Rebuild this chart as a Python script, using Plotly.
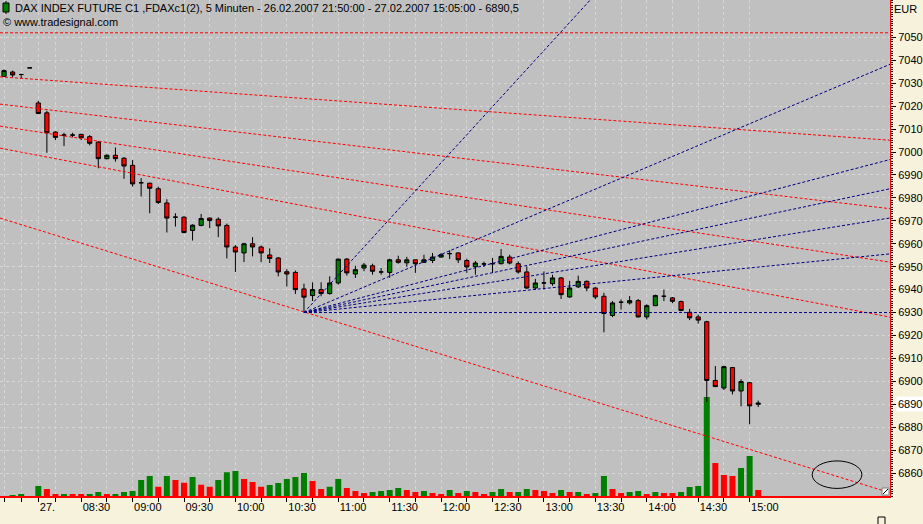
import plotly.graph_objects as go

# ---------------- data ----------------
# bar index: 0 = first 5-minute bar of 27.02.2007, negative = evening bars of 26.02.2007
BAR_IDX = list(range(-4, 85))

OPEN = [7033.0, 7034.9, 7033.8, 7036.7,
        7021.4, 7017.1, 7008.7, 7007.4, 7007.4, 7007.7, 7006.7, 7004.3, 6997.1, 6998.6,
        6997.3, 6994.2, 6986.6, 6986.4, 6984.0, 6977.8, 6971.6, 6971.6, 6965.8, 6968.0,
        6971.2, 6970.7, 6968.0, 6958.6, 6956.0, 6960.0, 6958.6, 6955.1, 6953.8, 6947.8,
        6947.5, 6940.3, 6937.4, 6940.0, 6938.3, 6942.9, 6953.3, 6946.8, 6949.4, 6950.4,
        6947.7, 6947.5, 6953.0, 6951.7, 6953.0, 6951.9, 6952.7, 6954.2, 6955.7, 6956.0,
        6952.7, 6950.0, 6951.2, 6951.3, 6951.3, 6954.2, 6951.3, 6947.7, 6940.7, 6942.9,
        6942.6, 6945.1, 6936.8, 6941.2, 6943.6, 6940.7, 6937.1, 6928.7, 6934.5, 6934.2,
        6935.2, 6928.1, 6933.0, 6937.1, 6936.4, 6934.8, 6930.1, 6928.1, 6926.0, 6900.4,
        6897.1, 6906.0, 6895.8, 6899.4, 6890.0]
HIGH = [7036.0, 7035.5, 7034.2, 7036.7,
        7022.3, 7018.0, 7009.0, 7008.4, 7008.4, 7008.0, 7007.4, 7004.8, 6999.0, 7002.0,
        6997.8, 6996.5, 6988.6, 6986.6, 6984.9, 6979.4, 6973.3, 6972.0, 6968.5, 6973.0,
        6971.5, 6971.5, 6968.8, 6959.4, 6960.4, 6962.9, 6959.2, 6958.0, 6954.2, 6948.9,
        6948.3, 6942.6, 6943.2, 6943.2, 6945.8, 6953.5, 6953.8, 6950.4, 6951.6, 6951.3,
        6949.4, 6953.5, 6954.8, 6954.3, 6953.0, 6955.2, 6956.0, 6956.0, 6957.1, 6956.3,
        6953.5, 6952.5, 6952.2, 6953.8, 6957.7, 6955.2, 6952.3, 6950.1, 6944.7, 6948.0,
        6946.5, 6945.5, 6943.8, 6946.1, 6944.0, 6941.0, 6938.6, 6935.0, 6935.7, 6937.2,
        6935.9, 6933.6, 6937.8, 6940.0, 6936.8, 6935.2, 6931.6, 6929.1, 6926.4, 6906.7,
        6906.8, 6906.2, 6900.9, 6899.6, 6891.6]
LOW = [7033.0, 7032.7, 7032.0, 7036.7,
       7016.5, 6999.7, 7005.2, 7002.6, 7006.4, 7005.2, 7002.9, 6992.9, 6996.8, 6995.8,
       6988.3, 6984.9, 6980.6, 6973.3, 6977.3, 6964.9, 6967.5, 6964.6, 6961.4, 6967.6,
       6966.8, 6962.9, 6953.6, 6947.7, 6952.0, 6954.5, 6952.0, 6951.6, 6945.8, 6941.4,
       6938.1, 6930.1, 6935.0, 6937.1, 6937.8, 6942.2, 6946.1, 6945.1, 6948.0, 6946.5,
       6946.5, 6945.1, 6951.3, 6950.0, 6947.3, 6951.6, 6951.6, 6953.9, 6953.3, 6951.6,
       6947.3, 6946.5, 6949.9, 6947.3, 6951.0, 6951.0, 6947.0, 6940.3, 6940.0, 6940.0,
       6941.7, 6935.9, 6936.5, 6940.7, 6939.3, 6935.9, 6921.4, 6928.0, 6931.3, 6933.5,
       6927.8, 6927.0, 6932.8, 6935.0, 6934.1, 6930.5, 6926.7, 6925.2, 6891.0, 6897.5,
       6896.2, 6894.3, 6889.1, 6881.3, 6888.8]
CLOSE = [7035.5, 7033.6, 7033.8, 7036.7,
         7016.8, 7008.4, 7006.4, 7007.4, 7007.4, 7006.2, 7003.8, 6997.1, 6998.6, 6997.1,
         6993.9, 6986.1, 6986.6, 6984.2, 6978.0, 6971.2, 6971.6, 6964.9, 6968.1, 6971.0,
         6970.1, 6967.8, 6958.6, 6956.4, 6960.0, 6958.6, 6956.0, 6953.6, 6947.7, 6946.8,
         6940.0, 6936.7, 6940.0, 6938.3, 6942.9, 6953.3, 6947.3, 6948.7, 6950.7, 6948.0,
         6947.7, 6953.0, 6951.9, 6953.0, 6951.3, 6953.0, 6954.2, 6955.2, 6955.7, 6953.0,
         6949.9, 6951.6, 6951.2, 6951.3, 6954.5, 6951.6, 6947.7, 6940.7, 6942.9, 6942.9,
         6945.1, 6937.8, 6940.7, 6943.6, 6940.7, 6936.8, 6929.6, 6934.2, 6934.5, 6935.2,
         6928.1, 6933.0, 6937.4, 6937.1, 6934.9, 6930.9, 6927.7, 6926.7, 6900.4, 6897.7,
         6906.4, 6895.8, 6899.9, 6889.3, 6890.5]

VOLUME = [0, 80, 160, 0,
          800, 560, 140, 160, 140, 100, 160, 320, 160, 160,
          320, 400, 1280, 1600, 740, 1600, 1280, 1060, 1520, 900,
          740, 1280, 1900, 2000, 1360, 1120, 740, 880, 1040, 1360,
          1520, 1840, 1200, 560, 740, 1360, 640, 400, 240, 320,
          400, 480, 640, 480, 320, 400, 240, 160, 480, 240,
          400, 320, 160, 320, 560, 320, 320, 560, 480, 400,
          240, 480, 320, 320, 160, 240, 1600, 560, 240, 320,
          400, 160, 320, 240, 240, 320, 720, 800, 7920, 2640,
          1680, 1600, 2240, 3200, 480]
VOL_DIR = ["g", "g", "g", "g",
           "g", "r", "r", "g", "r", "r", "g", "g", "r", "g",
           "g", "g", "g", "g", "r", "g", "r", "r", "g", "r",
           "r", "g", "g", "g", "r", "r", "r", "g", "g", "g",
           "g", "g", "r", "r", "g", "g", "r", "r", "r", "g",
           "g", "g", "g", "r", "r", "g", "r", "r", "g", "r",
           "g", "r", "r", "g", "g", "r", "g", "g", "r", "r",
           "r", "g", "r", "g", "r", "g", "g", "r", "r", "g",
           "g", "r", "g", "r", "r", "g", "g", "g", "g", "r",
           "r", "r", "g", "g", "r"]

# time axis ticks (bar index) and their labels
TICK_IDX = [-4, -2, 0, 2] + list(range(5, 84, 3))
LABEL_IDX = [0, 5, 11, 17, 23, 29, 35, 41, 47, 53, 59, 65, 71, 77, 83]
LABEL_TXT = ["27.", "08:30", "09:00", "09:30", "10:00", "10:30", "11:00", "11:30",
             "12:00", "12:30", "13:00", "13:30", "14:00", "14:30", "15:00"]

PRICE_TICKS = list(range(6860, 7051, 10))
LAST_PRICE = 6890.5

# drawn analysis lines: two points (bar index, price) each
RED_TRENDS = [((-4.47, 7032.8), (99.15, 7005.2)),
              ((-4.47, 7020.9), (99.15, 6975.4)),
              ((-4.47, 7011.3), (99.15, 6952.1)),
              ((-4.47, 7001.7), (99.15, 6928.2)),
              ((-4.47, 6971.2), (99.15, 6851.7))]
RED_LEVEL = 7052.0
FAN_ORIGIN = (31, 6930.0)
FAN_POINTS = [(64.4, 7066.3), (99.15, 7037.9), (99.15, 6996.5), (99.15, 6983.8),
              (99.15, 6971.1), (99.15, 6955.5), (99.15, 6930.0)]
ELLIPSE = dict(xc=93.2, rx=2.9, yc=6859.3, ry=6.0)

X_RANGE = [-4.47, 99.38]
Y_RANGE = [6850.0, 7066.3]
VOL_MAX = 39680

TITLE = ("DAX INDEX FUTURE C1 ,FDAXc1(2), 5 Minuten - 26.02.2007 21:50:00 - "
         "27.02.2007 15:05:00 - 6890,5")

# ---------------- figure ----------------
GREEN = "#008000"
RED = "#FF0000"
NAVY = "#000080"
FONT = "Liberation Sans"

fig = go.Figure()

# volume (bottom layer, hidden left axis)
fig.add_trace(go.Bar(
    x=BAR_IDX, y=VOLUME, yaxis="y",
    marker=dict(color=[GREEN if d == "g" else RED for d in VOL_DIR], line=dict(width=0)),
    width=0.7, hoverinfo="skip", showlegend=False))

# candles
fig.add_trace(go.Candlestick(
    x=BAR_IDX, open=OPEN, high=HIGH, low=LOW, close=CLOSE, yaxis="y2",
    increasing=dict(fillcolor=GREEN, line=dict(color="black", width=1)),
    decreasing=dict(fillcolor=RED, line=dict(color="black", width=1)),
    whiskerwidth=0, hoverinfo="skip", showlegend=False))


def extend(p0, p1, xa, xb):
    (x0, y0), (x1, y1) = p0, p1
    s = (y1 - y0) / (x1 - x0)
    return [xa, xb], [y0 + s * (xa - x0), y0 + s * (xb - x0)]


# red trend lines
for p0, p1 in RED_TRENDS:
    xs, ys = extend(p0, p1, X_RANGE[0], X_RANGE[1])
    fig.add_trace(go.Scatter(x=xs, y=ys, yaxis="y2", mode="lines",
                             line=dict(color=RED, width=1, dash="3px,2px"),
                             hoverinfo="skip", showlegend=False))
fig.add_trace(go.Scatter(x=X_RANGE, y=[RED_LEVEL, RED_LEVEL], yaxis="y2", mode="lines",
                         line=dict(color=RED, width=1, dash="3px,2px"),
                         hoverinfo="skip", showlegend=False))

# blue fan lines
for pt in FAN_POINTS:
    xs, ys = extend(FAN_ORIGIN, pt, FAN_ORIGIN[0], X_RANGE[1])
    fig.add_trace(go.Scatter(x=xs, y=ys, yaxis="y2", mode="lines",
                             line=dict(color=NAVY, width=1, dash="3px,2px"),
                             hoverinfo="skip", showlegend=False))

ticktext = [LABEL_TXT[LABEL_IDX.index(t)] if t in LABEL_IDX else "" for t in TICK_IDX]

fig.update_layout(
    width=923, height=524,
    margin=dict(l=0, r=33, t=0, b=28),
    paper_bgcolor="#F6F2DC",
    plot_bgcolor="#C0C0C0",
    font=dict(family=FONT, size=11, color="black"),
    showlegend=False,
    xaxis=dict(
        range=X_RANGE, rangeslider=dict(visible=False),
        tickmode="array", tickvals=TICK_IDX, ticktext=ticktext,
        ticks="outside", ticklen=4, tickcolor="black", tickwidth=1,
        ticklabelposition="outside right",
        showline=True, linecolor=RED, linewidth=2,
        showgrid=True, gridcolor="#D6D6D6", griddash="dot", gridwidth=1,
        zeroline=False, fixedrange=True, automargin=False,
    ),
    yaxis=dict(range=[0, VOL_MAX], visible=False, showgrid=False, zeroline=False,
               fixedrange=True),
    yaxis2=dict(
        overlaying="y", side="right", range=Y_RANGE,
        tickmode="array", tickvals=PRICE_TICKS,
        ticks="outside", ticklen=5, tickcolor="black", tickwidth=1,
        minor=dict(ticks="outside", ticklen=2, tickcolor="black", dtick=1, showgrid=False),
        showline=True, linecolor=RED, linewidth=1,
        showgrid=True, gridcolor="#D6D6D6", griddash="dot", gridwidth=1,
        zeroline=False, fixedrange=True, automargin=False,
    ),
)

# ellipse marking
fig.add_shape(type="circle", xref="x", yref="y2",
              x0=ELLIPSE["xc"] - ELLIPSE["rx"], x1=ELLIPSE["xc"] + ELLIPSE["rx"],
              y0=ELLIPSE["yc"] - ELLIPSE["ry"], y1=ELLIPSE["yc"] + ELLIPSE["ry"],
              line=dict(color="black", width=1))

# title icon (small green candle)
fig.add_shape(type="line", xref="paper", yref="paper", xsizemode="pixel", ysizemode="pixel",
              xanchor=0, yanchor=1, x0=6, x1=6, y0=-1, y1=-14, line=dict(color="black", width=1))
fig.add_shape(type="rect", xref="paper", yref="paper", xsizemode="pixel", ysizemode="pixel",
              xanchor=0, yanchor=1, x0=3, x1=9, y0=-3, y1=-12,
              fillcolor=GREEN, line=dict(color="black", width=1))

# small window-corner glyphs of the original screenshot
fig.add_shape(type="rect", xref="paper", yref="paper", xsizemode="pixel", ysizemode="pixel",
              xanchor=1, yanchor=0, x0=-8, x1=-1, y0=1, y1=8,
              fillcolor="white", line=dict(color="#808080", width=1))
fig.add_shape(type="line", xref="paper", yref="paper", xsizemode="pixel", ysizemode="pixel",
              xanchor=1, yanchor=0, x0=-7, x1=-2, y0=2, y1=7,
              line=dict(color="black", width=1))
fig.add_shape(type="rect", xref="paper", yref="paper", xsizemode="pixel", ysizemode="pixel",
              xanchor=1, yanchor=0, x0=-12, x1=-5, y0=-21, y1=-30,
              line=dict(color="black", width=1))

fig.add_annotation(xref="paper", yref="paper", x=0, y=1, xanchor="left", yanchor="top",
                   xshift=13, yshift=0, text=TITLE, showarrow=False,
                   font=dict(family=FONT, size=11, color="black"))
fig.add_annotation(xref="paper", yref="paper", x=0, y=1, xanchor="left", yanchor="top",
                   xshift=1, yshift=-14, text="© www.tradesignal.com", showarrow=False,
                   font=dict(family=FONT, size=11, color="black"))
fig.add_annotation(xref="paper", yref="paper", x=1, y=1, xanchor="left", yanchor="top",
                   xshift=2, yshift=-1, text="EUR", showarrow=False,
                   font=dict(family=FONT, size=11, color="black"))
fig.add_annotation(xref="paper", yref="y2", x=1, y=6890, xanchor="left", yanchor="middle",
                   xshift=6, text="6890", showarrow=False, bgcolor="#FFFFFF", borderpad=1,
                   font=dict(family=FONT, size=11, color="black"))

fig.write_html("out.html", config={"displayModeBar": False},
               post_script="document.body.style.margin='0';document.body.style.overflow='hidden';")
